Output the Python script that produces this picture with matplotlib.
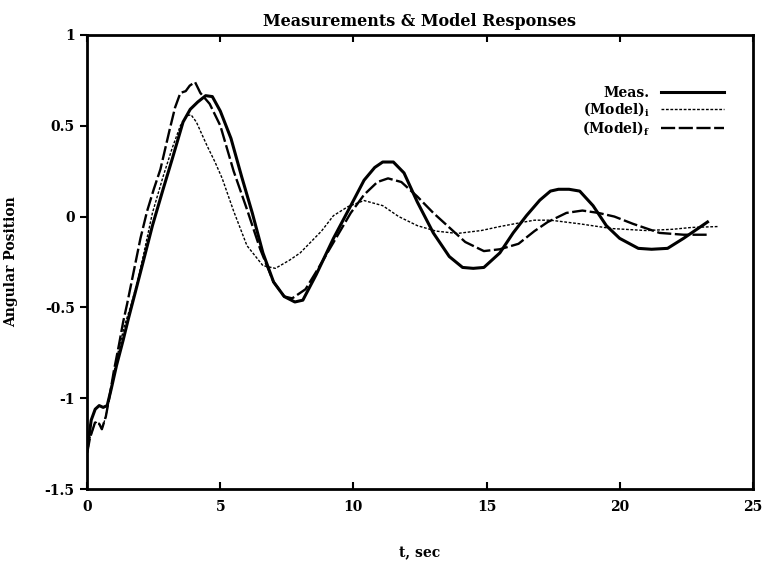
import matplotlib
matplotlib.use("Agg")
import matplotlib.pyplot as plt

# ---- data ----
meas_t = [0, 0.15, 0.3, 0.45, 0.6, 0.75, 0.9, 1.1, 1.35, 1.55, 1.8, 2.1, 2.45, 2.85, 3.2, 3.6, 3.87,
          4.15, 4.45, 4.7, 5.0, 5.4, 5.8, 6.2, 6.6, 7.0, 7.4, 7.8, 8.1, 8.6, 9.25, 9.9, 10.4, 10.8,
          11.1, 11.5, 11.9, 12.4, 13.0, 13.6, 14.1, 14.5, 14.9, 15.5, 16.0, 16.5, 17.0, 17.4, 17.7,
          18.1, 18.5, 19.0, 19.5, 20.0, 20.7, 21.2, 21.8, 22.4, 23.0, 23.3]
meas_v = [-1.28, -1.12, -1.06, -1.04, -1.05, -1.04, -0.95, -0.82, -0.68, -0.56, -0.42, -0.25, -0.05,
          0.15, 0.32, 0.52, 0.59, 0.63, 0.665, 0.66, 0.58, 0.43, 0.22, 0.02, -0.2, -0.36, -0.44, -0.47,
          -0.46, -0.32, -0.12, 0.06, 0.2, 0.27, 0.30, 0.30, 0.24, 0.08, -0.09, -0.22, -0.28, -0.285,
          -0.28, -0.2, -0.09, 0.005, 0.09, 0.14, 0.15, 0.15, 0.14, 0.06, -0.05, -0.12, -0.175, -0.18,
          -0.175, -0.12, -0.06, -0.03]

modf_t = [0, 0.1, 0.3, 0.45, 0.55, 0.7, 0.85, 1.0, 1.2, 1.35, 1.5, 1.75, 2.0, 2.25, 2.5, 2.75, 3.1,
          3.3, 3.5, 3.7, 3.85, 4.05, 4.25, 4.6, 5.0, 5.5, 6.0, 6.5, 7.0, 7.4, 7.7, 8.2, 8.7, 9.3, 9.9,
          10.4, 10.9, 11.3, 11.8, 12.4, 13.0, 13.6, 14.2, 14.9, 15.5, 16.2, 16.8, 17.3, 18.0, 18.6,
          19.2, 19.8, 20.5, 21.5, 22.4, 23.3]
modf_v = [-1.30, -1.22, -1.13, -1.14, -1.17, -1.1, -0.98, -0.85, -0.7, -0.58, -0.48, -0.3, -0.12,
          0.03, 0.15, 0.26, 0.48, 0.6, 0.68, 0.69, 0.72, 0.74, 0.68, 0.62, 0.5, 0.25, 0.04, -0.18,
          -0.36, -0.44, -0.45, -0.40, -0.28, -0.13, 0.02, 0.12, 0.19, 0.21, 0.19, 0.11, 0.02, -0.06,
          -0.14, -0.19, -0.18, -0.15, -0.08, -0.03, 0.02, 0.033, 0.02, 0.0, -0.04, -0.09, -0.10, -0.10]

modi_t = [0, 0.1, 0.3, 0.45, 0.55, 0.7, 0.85, 1.0, 1.2, 1.4, 1.62, 1.85, 2.1, 2.45, 2.85, 3.2, 3.5,
          3.76, 3.9, 4.1, 4.5, 4.8, 5.07, 5.5, 6.0, 6.6, 7.07, 7.6, 8.0, 8.4, 8.8, 9.25, 9.8, 10.4,
          11.1, 11.7, 12.4, 13.1, 13.9, 14.8, 15.5, 16.3, 16.8, 17.4, 18.5, 19.7, 21.0, 22.0, 22.7, 23.7]
modi_v = [-1.30, -1.22, -1.13, -1.14, -1.17, -1.1, -0.98, -0.86, -0.72, -0.6, -0.5, -0.38, -0.22,
          0.02, 0.22, 0.38, 0.5, 0.555, 0.56, 0.52, 0.39, 0.30, 0.21, 0.03, -0.16, -0.27, -0.285,
          -0.24, -0.2, -0.14, -0.08, 0.005, 0.055, 0.088, 0.06, 0.0, -0.05, -0.08, -0.093, -0.077,
          -0.055, -0.033, -0.02, -0.02, -0.04, -0.066, -0.077, -0.07, -0.06, -0.055]

x_ticks = [0, 5, 10, 15, 20, 25]
y_ticks = [-1.5, -1, -0.5, 0, 0.5, 1]
y_tick_labels = ["-1.5", "-1", "-0.5", "0", "0.5", "1"]

title = "Measurements & Model Responses"
xlabel = "t, sec"
ylabel = "Angular Position"

# ---- figure ----
plt.rcParams['font.family'] = ['DejaVu Serif']
plt.rcParams['font.weight'] = 'bold'
plt.rcParams['mathtext.fontset'] = 'dejavuserif'

fig = plt.figure(figsize=(7.65, 5.61), dpi=100)
ax = fig.add_axes([0.114, 0.128, 0.870, 0.810])

ax.plot(meas_t, meas_v, color='black', lw=2.2, solid_joinstyle='round', label='Meas.')
ax.plot(modi_t, modi_v, color='black', lw=1.0, dashes=(2, 1.2), label=r'(Model)$_{\mathbf{i}}$')
ax.plot(modf_t, modf_v, color='black', lw=1.7, dashes=(6, 1.5), label=r'(Model)$_{\mathbf{f}}$')

ax.set_xlim(0, 25)
ax.set_ylim(-1.5, 1)
ax.set_xticks(x_ticks)
ax.set_xticklabels([str(v) for v in x_ticks], fontsize=10, fontweight='bold')
ax.set_yticks(y_ticks)
ax.set_yticklabels(y_tick_labels, fontsize=10, fontweight='bold')

for s in ax.spines.values():
    s.set_linewidth(2.0)
ax.tick_params(axis='x', direction='in', length=5, width=1.5, top=True, pad=8)
ax.tick_params(axis='y', direction='out', length=5, width=1.5, pad=4)

ax.set_title(title, fontsize=11.5, fontweight='bold', pad=6)
ax.set_xlabel(xlabel, fontsize=10, fontweight='bold')
ax.set_ylabel(ylabel, fontsize=10, fontweight='bold')
ax.xaxis.set_label_coords(0.5, -0.125)
ax.yaxis.set_label_coords(-0.104, 0.5)

leg = ax.legend(loc='upper right', bbox_to_anchor=(0.975, 0.915), frameon=False,
                markerfirst=False, handlelength=4.5, labelspacing=0.05, handletextpad=0.8,
                prop={'weight': 'bold', 'size': 10})

fig.savefig("out.png", dpi=100)
